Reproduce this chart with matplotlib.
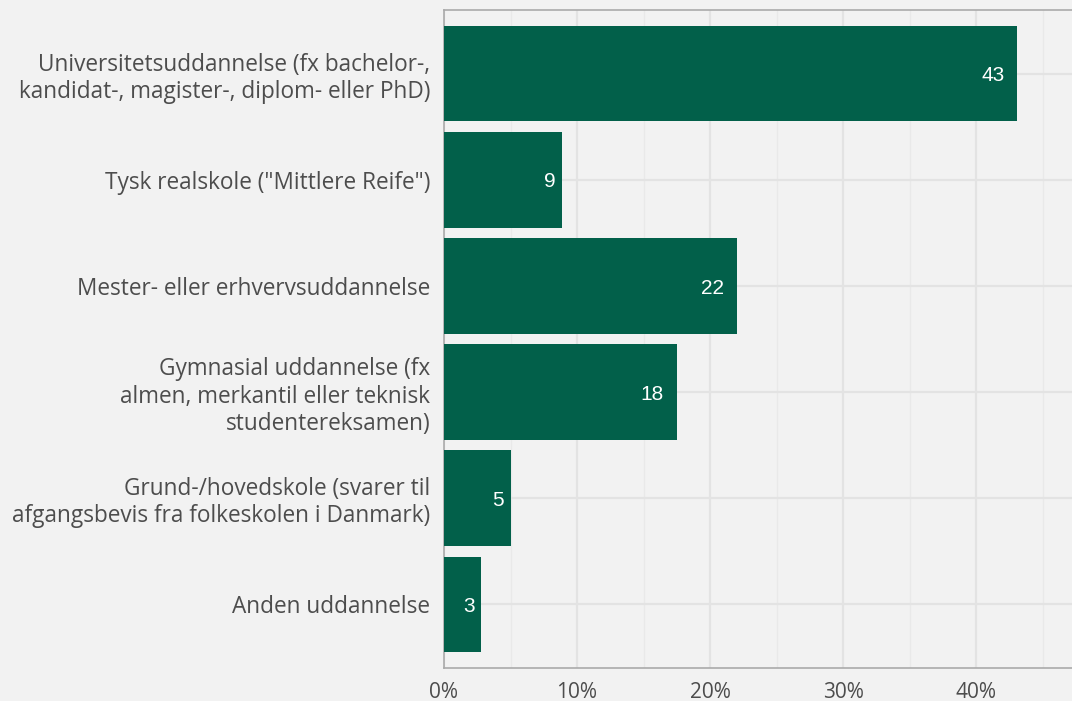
import matplotlib
matplotlib.use('Agg')
import matplotlib.pyplot as plt
from matplotlib.ticker import MultipleLocator, FuncFormatter

categories = [
    'Universitetsuddannelse (fx bachelor-,\nkandidat-, magister-, diplom- eller PhD)',
    'Tysk realskole ("Mittlere Reife")',
    'Mester- eller erhvervsuddannelse',
    'Gymnasial uddannelse (fx\nalmen, merkantil eller teknisk\nstudentereksamen)',
    'Grund-/hovedskole (svarer til\nafgangsbevis fra folkeskolen i Danmark)',
    'Anden uddannelse',
]
shares = [43.1, 8.9, 22.0, 17.5, 5.0, 2.8]

bg = '#f2f2f2'
bar_color = '#02604a'
text_color = '#4d4d4d'

fig = plt.figure(figsize=(10.72, 7.01), dpi=100, facecolor=bg)
ax = fig.add_axes([444 / 1072, 1 - 668 / 701, 1 - 444 / 1072, (668 - 10) / 701])
ax.set_facecolor(bg)

pos = list(range(len(categories)))[::-1]
ax.barh(pos, shares, height=0.9, color=bar_color, zorder=3)

# value labels sit just inside the bar end
for y, v in zip(pos, shares):
    s = '{:.0f}'.format(v)
    ax.annotate(s, xy=(v, y), xytext=(-8.8 * len(s), -1.5), textcoords='offset points',
                ha='center', va='center', color='white', fontsize=15,
                family='Liberation Sans', zorder=4)

ax.set_xlim(0, 47.2)
ax.set_ylim(-0.6, 5.6)
ax.set_yticks(pos)
ax.set_yticklabels(categories, fontsize=16.3, color=text_color, family='Open Sans',
                   linespacing=1.18)
ax.xaxis.set_major_locator(MultipleLocator(10))
ax.xaxis.set_minor_locator(MultipleLocator(5))
ax.xaxis.set_major_formatter(FuncFormatter(lambda x, p: '{:.0f}%'.format(x)))
for lab in ax.get_xticklabels():
    lab.set_fontsize(15)
    lab.set_color(text_color)
    lab.set_family('Open Sans')

ax.tick_params(axis='both', which='both', length=0)
ax.tick_params(axis='y', pad=10)
ax.tick_params(axis='x', pad=10)

ax.grid(True, which='major', axis='both', color='#e3e3e3', linewidth=1.6, zorder=0)
ax.grid(True, which='minor', axis='x', color='#e9e9e9', linewidth=1.0, zorder=0)

for side in ['left', 'bottom', 'top']:
    ax.spines[side].set_color('#aaaaaa')
    ax.spines[side].set_linewidth(1.2)
ax.spines['right'].set_visible(False)

fig.savefig('out.png', dpi=100, facecolor=bg)
